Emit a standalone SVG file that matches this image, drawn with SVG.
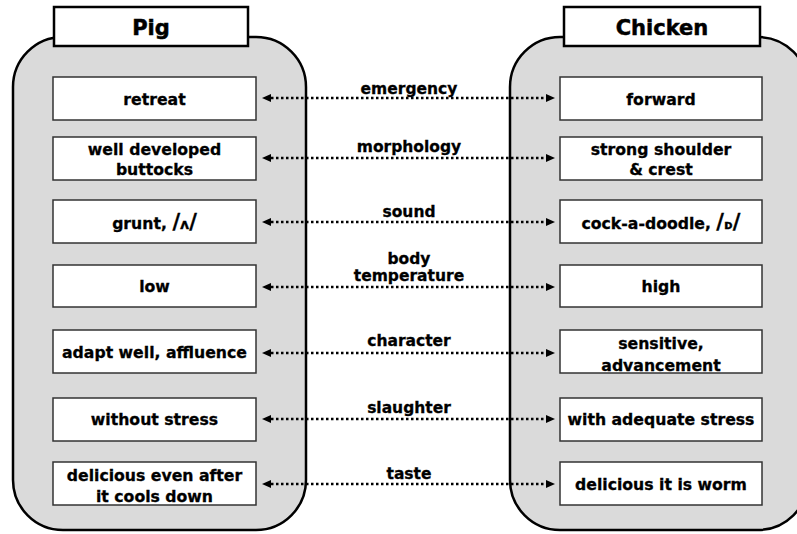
<svg xmlns="http://www.w3.org/2000/svg" width="797" height="534" viewBox="0 0 797 534">
<defs>
<style>
.cont{fill:#dadada;stroke:#000;stroke-width:2.5}
.head{fill:#fff;stroke:#000;stroke-width:2.5}
.box{fill:#fff;stroke:#333;stroke-width:1.5}
text{font-family:"DejaVu Sans","Verdana",sans-serif;font-weight:bold;fill:#000;stroke:#000;stroke-width:0.3;text-anchor:middle}
.ht{font-size:21px;stroke-width:0.5}
.bt{font-size:15.7px}
.lt{font-size:15.5px}
.sl{font-size:21px}
.conn line{stroke:#000;stroke-width:2.5;stroke-dasharray:2.5 2.5}
</style>
<marker id="ah" markerUnits="userSpaceOnUse" markerWidth="10" markerHeight="9" refX="0" refY="4" orient="auto-start-reverse" viewBox="0 0 10 8">
<path d="M0,0 L9,4 L0,8 z" fill="#000"/>
</marker>
</defs>

<g id="pig">
<rect class="cont" x="13" y="37" width="293" height="493" rx="50" ry="50"/>
<rect class="head" x="54" y="7" width="194" height="39"/>
<text class="ht" x="151" y="35">Pig</text>
</g>
<g id="chicken">
<rect class="cont" x="510" y="37" width="298" height="493" rx="50" ry="50"/>
<rect class="head" x="564" y="7" width="196" height="39"/>
<text class="ht" x="662" y="35">Chicken</text>
</g>

<g id="pig-retreat"><rect class="box" x="53" y="77" width="203" height="43"/><text class="bt" x="154.5" y="105">retreat</text></g>
<g id="pig-buttocks"><rect class="box" x="53" y="137" width="203" height="43"/><text class="bt" x="154.5" y="155">well developed</text><text class="bt" x="154.5" y="175">buttocks</text></g>
<g id="pig-grunt"><rect class="box" x="53" y="200" width="203" height="43"/><text class="bt" x="154.5" y="229">grunt, <tspan class="sl">/</tspan><tspan font-size="14">ʌ</tspan><tspan class="sl">/</tspan></text></g>
<g id="pig-low"><rect class="box" x="53" y="265" width="203" height="42"/><text class="bt" x="154.5" y="292">low</text></g>
<g id="pig-adapt"><rect class="box" x="53" y="330" width="203" height="43"/><text class="bt" x="154.5" y="358">adapt well, affluence</text></g>
<g id="pig-stress"><rect class="box" x="53" y="398" width="203" height="43"/><text class="bt" x="154.5" y="425">without stress</text></g>
<g id="pig-taste"><rect class="box" x="53" y="462" width="203" height="43"/><text class="bt" x="154.5" y="481">delicious even after</text><text class="bt" x="154.5" y="502">it cools down</text></g>

<g id="ch-forward"><rect class="box" x="560" y="77" width="202" height="43"/><text class="bt" x="661" y="105">forward</text></g>
<g id="ch-shoulder"><rect class="box" x="560" y="137" width="202" height="43"/><text class="bt" x="661" y="155">strong shoulder</text><text class="bt" x="661" y="175">&amp; crest</text></g>
<g id="ch-cock"><rect class="box" x="560" y="200" width="202" height="43"/><text class="bt" x="661" y="229">cock-a-doodle, <tspan class="sl">/</tspan><tspan font-size="13">ᴅ</tspan><tspan class="sl">/</tspan></text></g>
<g id="ch-high"><rect class="box" x="560" y="265" width="202" height="42"/><text class="bt" x="661" y="292">high</text></g>
<g id="ch-sensitive"><rect class="box" x="560" y="330" width="202" height="43"/><text class="bt" x="661" y="349">sensitive,</text><text class="bt" x="661" y="371">advancement</text></g>
<g id="ch-stress"><rect class="box" x="560" y="398" width="202" height="43"/><text class="bt" x="661" y="425">with adequate stress</text></g>
<g id="ch-worm"><rect class="box" x="560" y="462" width="202" height="43"/><text class="bt" x="661" y="490">delicious it is worm</text></g>

<g id="connectors" class="conn">
<line x1="271" y1="98" x2="546" y2="98" marker-start="url(#ah)" marker-end="url(#ah)"/>
<line x1="271" y1="158" x2="546" y2="158" marker-start="url(#ah)" marker-end="url(#ah)"/>
<line x1="271" y1="222" x2="546" y2="222" marker-start="url(#ah)" marker-end="url(#ah)"/>
<line x1="271" y1="287" x2="546" y2="287" marker-start="url(#ah)" marker-end="url(#ah)"/>
<line x1="271" y1="353" x2="546" y2="353" marker-start="url(#ah)" marker-end="url(#ah)"/>
<line x1="271" y1="419" x2="546" y2="419" marker-start="url(#ah)" marker-end="url(#ah)"/>
<line x1="271" y1="484" x2="546" y2="484" marker-start="url(#ah)" marker-end="url(#ah)"/>
<text class="lt" x="409" y="94">emergency</text>
<text class="lt" x="409" y="152">morphology</text>
<text class="lt" x="409" y="217">sound</text>
<text class="lt" x="409" y="264" font-size="15px">body</text>
<text class="lt" x="409" y="281" font-size="15px">temperature</text>
<text class="lt" x="409" y="346">character</text>
<text class="lt" x="409" y="413">slaughter</text>
<text class="lt" x="409" y="479">taste</text>
</g>
</svg>
